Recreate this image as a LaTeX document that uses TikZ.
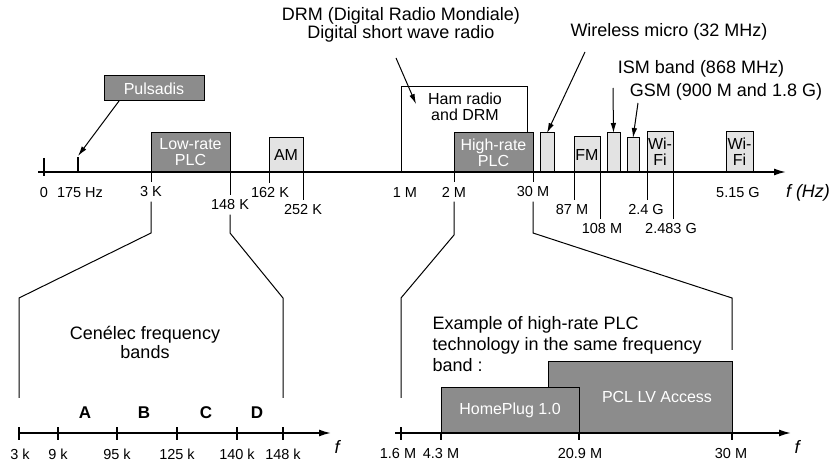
\documentclass[tikz,border=0pt]{standalone}
\usepackage{fontspec}
\setmainfont{Liberation Sans}
\usetikzlibrary{arrows.meta}
\definecolor{bandgray}{gray}{0.55}
\definecolor{bandlight}{gray}{0.89}

\begin{document}
\begin{tikzpicture}[x=1pt, y=-1pt,
                    line width=1pt,
                    >={Latex[length=10pt,width=5.5pt]},
                    ]
    \tikzstyle{band}=[draw, anchor=south west, inner sep=0pt, outer sep=0pt, align=center, font=\fontsize{16}{16}\selectfont]
    \tikzstyle{dark}=[band, fill=bandgray, text=white];
    \tikzstyle{light}=[band, fill=bandlight];
    \tikzstyle{hollow}=[band, fill=white];
    \tikzstyle{ticklab}=[inner sep=4pt, font=\fontsize{14.5}{14.5}\selectfont];
    \tikzstyle{note}=[align=center, inner sep=0pt, font=\fontsize{18}{16}\selectfont];
    \tikzstyle{axis}=[line width=1.7pt, -{Latex[length=12pt,width=7pt]}];
    \tikzstyle{tick}=[line width=1.1pt];

    \useasboundingbox (0,0) rectangle (831,465);

    % upper spectrum
    \node[hollow, minimum width=126pt, minimum height=85pt] (ham) at (401,172) {};
    \node[band, draw=none, fill=none, anchor=center] (hamtxt) at (465,107) {Ham radio\\and DRM};
    \node[dark, anchor=center, minimum width=100pt, minimum height=25pt] (puls) at (154,88.5) {Pulsadis};
    \node[dark, minimum width=79pt, minimum height=39pt] (lowplc) at (151,172) {Low-rate\\PLC};
    \node[light, minimum width=34pt, minimum height=34pt] (am) at (269,172) {AM};
    \node[dark, minimum width=79pt, minimum height=39pt] (hiplc) at (454,172) {High-rate\\PLC};
    \node[light, minimum width=14pt, minimum height=39pt] (wmic) at (540,172) {};
    \node[light, minimum width=26pt, minimum height=35pt] (fm) at (574,172) {FM};
    \node[light, minimum width=13pt, minimum height=39pt] (ism) at (607,172) {};
    \node[light, minimum width=12pt, minimum height=34pt] (gsm) at (627,172) {};
    \node[light, minimum width=26pt, minimum height=40pt] (wifiA) at (647,172) {Wi-\\Fi};
    \node[light, minimum width=27pt, minimum height=40pt] (wifiB) at (726,172) {Wi-\\Fi};

    \coordinate (ax0) at (38,172);
    \coordinate (ax1) at (786,172);
    \draw[axis] (ax0) -- (ax1);
    \draw[tick] (44,158) -- (44,176);
    \draw[tick] (78,157) -- (78,172);
    \coordinate (t175) at (78,156);

    \node[ticklab] (l0) at (44,193) {0};
    \node[ticklab] (l175) at (80,193) {175 Hz};
    \node[ticklab] (l3K) at (151,192) {3 K};
    \node[ticklab] (l148K) at (230,205) {148 K};
    \node[ticklab] (l162K) at (270,193) {162 K};
    \node[ticklab] (l252K) at (303,210) {252 K};
    \node[ticklab] (l1M) at (405,193) {1 M};
    \node[ticklab] (l2M) at (454,192) {2 M};
    \node[ticklab] (l30M) at (533,192) {30 M};
    \node[ticklab] (l87M) at (572,210) {87 M};
    \node[ticklab] (l108M) at (602,229) {108 M};
    \node[ticklab] (l24G) at (646,210) {2.4 G};
    \node[ticklab] (l2483G) at (671,229) {2.483 G};
    \node[ticklab] (l515G) at (738,193) {5.15 G};
    \node[font=\fontsize{18}{18}\selectfont\itshape] (fHz) at (808,193) {f (Hz)};

    \draw (lowplc.south west) -- (l3K.north);
    \draw (lowplc.south east) -- (l148K.north);
    \draw (am.south west) -- (am.south west |- l162K.north);
    \draw (am.south east) -- (am.south east |- l252K.north);
    \draw (hiplc.south west) -- (l2M.north);
    \draw (hiplc.south east) -- (l30M.north);
    \draw (fm.south west) -- (fm.south west |- l87M.north);
    \draw (fm.south east) -- (fm.south east |- l108M.north);
    \draw (wifiA.south west) -- (wifiA.south west |- l24G.north);
    \draw (wifiA.south east) -- (wifiA.south east |- l2483G.north);

    % notes and pointers
    \node[note] (drm) at (401,25) {DRM (Digital Radio Mondiale)\\Digital short wave radio};
    \node[note] (wmictxt) at (669,32) {Wireless micro (32 MHz)};
    \node[note] (ismtxt) at (701,69) {ISM band (868 MHz)};
    \node[note] (gsmtxt) at (726,92) {GSM (900 M and 1.8 G)};
    \coordinate (drmtail) at (396,58);
    \coordinate (drmhead) at (416,104);
    \coordinate (wmtail) at (585,52);
    \coordinate (ismtail) at (613,88);
    \coordinate (gsmtail) at (638,103);

    \draw[->] ([xshift=15pt]puls.south west) -- (t175);
    \draw[->] (drmtail) -- (drmhead);
    \draw[->] (wmtail) -- (wmic.north);
    \draw[->] (ismtail) -- (ism.north);
    \draw[->] (gsmtail) -- (gsm.north);

    % zoom lines
    \draw (l3K.south) -- (151,233) -- (19,298) -- (19,398);
    \draw (l148K.south) -- (230,233) -- (283,298) -- (283,398);
    \draw (l2M.south) -- (454,235) -- (401,298) -- (401,398);
    \draw (l30M.south) -- (533,233) -- (732,298) -- (732,350);

    % Cenelec bands
    \node[note, font=\fontsize{18}{19}\selectfont] (cenelec) at (145,342) {Cenélec frequency\\bands};
    \node[font=\fontsize{17}{17}\selectfont\bfseries] (bandA) at (85,413) {A};
    \node[font=\fontsize{17}{17}\selectfont\bfseries] (bandB) at (144,413) {B};
    \node[font=\fontsize{17}{17}\selectfont\bfseries] (bandC) at (206,413) {C};
    \node[font=\fontsize{17}{17}\selectfont\bfseries] (bandD) at (257,413) {D};

    \draw[axis] (19,433) -- (331,433);
    \draw[tick] (19,427) -- (19,440);
    \draw[tick] (58,427) -- (58,440);
    \draw[tick] (117,427) -- (117,440);
    \draw[tick] (177,427) -- (177,440);
    \draw[tick] (237,427) -- (237,440);
    \draw[tick] (283,427) -- (283,440);
    \node[ticklab] (k3) at (20,454) {3 k};
    \node[ticklab] (k9) at (58,454) {9 k};
    \node[ticklab] (k95) at (117,454) {95 k};
    \node[ticklab] (k125) at (177,454) {125 k};
    \node[ticklab] (k140) at (237,454) {140 k};
    \node[ticklab] (k148) at (283,454) {148 k};
    \node[font=\fontsize{18}{18}\selectfont\itshape] (fA) at (337,447) {f};

    % high-rate PLC example
    \node[note, align=left, anchor=west, font=\fontsize{18}{21}\selectfont] (example) at (432,344)
        {Example of high-rate PLC\\technology in the same frequency\\band :};
    \node[dark, minimum width=184pt, minimum height=71pt] (pcl) at (548,433) {};
    \node[font=\fontsize{16}{16}\selectfont, text=white] (pcltxt) at (657,397) {PCL LV Access};
    \node[dark, minimum width=138pt, minimum height=45pt] (hp) at (441,433) {HomePlug 1.0};

    \draw[axis] (395,433) -- (791,433);
    \draw[tick] (401,427) -- (401,440);
    \draw[tick] (441,433) -- (441,440);
    \draw[tick] (579,433) -- (579,440);
    \draw[tick] (732,433) -- (732,440);
    \node[ticklab] (m16) at (398,454) {1.6 M};
    \node[ticklab] (m43) at (441,454) {4.3 M};
    \node[ticklab] (m209) at (580,454) {20.9 M};
    \node[ticklab] (m30) at (731,454) {30 M};
    \node[font=\fontsize{18}{18}\selectfont\itshape] (fB) at (797,447) {f};
\end{tikzpicture}
\end{document}
